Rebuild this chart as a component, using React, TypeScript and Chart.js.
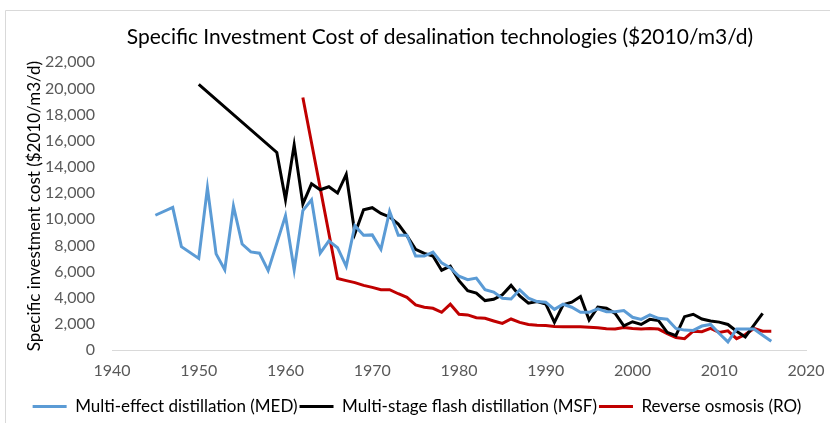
import React, { useEffect, useRef } from "react";
import { Chart, registerables } from "chart.js";

Chart.register(...registerables);

const medYears = [1945, 1947, 1948, 1950, 1951, 1952, 1953, 1954, 1955, 1956, 1957, 1958, 1960, 1961, 1962, 1963, 1964, 1965, 1966, 1967, 1968, 1969, 1970, 1971, 1972, 1973, 1974, 1975, 1976, 1977, 1978, 1979, 1980, 1981, 1982, 1983, 1984, 1985, 1986, 1987, 1988, 1989, 1990, 1991, 1992, 1993, 1994, 1995, 1996, 1997, 1998, 1999, 2000, 2001, 2002, 2003, 2004, 2005, 2006, 2007, 2008, 2009, 2010, 2011, 2012, 2013, 2014, 2015, 2016];
const medValues = [10300, 10900, 7900, 7000, 12400, 7350, 6130, 11000, 8100, 7500, 7400, 6070, 10270, 6130, 10660, 11480, 7400, 8340, 7820, 6400, 9500, 8780, 8800, 7700, 10600, 8780, 8780, 7180, 7180, 7490, 6660, 6280, 5640, 5380, 5500, 4610, 4430, 3960, 3900, 4600, 3960, 3700, 3650, 3110, 3500, 3270, 2880, 2880, 3140, 2930, 2930, 3010, 2500, 2340, 2680, 2420, 2350, 1650, 1520, 1500, 1830, 1950, 1260, 620, 1600, 1600, 1600, 1130, 670];

const msfYears = [1950, 1959, 1960, 1961, 1962, 1963, 1964, 1965, 1966, 1967, 1968, 1969, 1970, 1971, 1972, 1973, 1974, 1975, 1976, 1977, 1978, 1979, 1980, 1981, 1982, 1983, 1984, 1985, 1986, 1987, 1988, 1989, 1990, 1991, 1992, 1993, 1994, 1995, 1996, 1997, 1998, 1999, 2000, 2001, 2002, 2003, 2004, 2005, 2006, 2007, 2008, 2009, 2010, 2011, 2012, 2013, 2014, 2015];
const msfValues = [20300, 15100, 11500, 15680, 11150, 12700, 12250, 12480, 12000, 13420, 8900, 10720, 10880, 10440, 10170, 9630, 8730, 7700, 7390, 7180, 6100, 6410, 5300, 4530, 4350, 3780, 3880, 4220, 4940, 4140, 3580, 3700, 3520, 2110, 3450, 3650, 4090, 2290, 3270, 3190, 2800, 1850, 2160, 1950, 2340, 2250, 1350, 1100, 2550, 2730, 2370, 2220, 2130, 1950, 1440, 1000, 1900, 2800];

const roYears = [1962, 1966, 1967, 1968, 1969, 1970, 1971, 1972, 1973, 1974, 1975, 1976, 1977, 1978, 1979, 1980, 1981, 1982, 1983, 1984, 1985, 1986, 1987, 1988, 1989, 1990, 1991, 1992, 1993, 1994, 1995, 1996, 1997, 1998, 1999, 2000, 2001, 2002, 2003, 2004, 2005, 2006, 2007, 2008, 2009, 2010, 2011, 2012, 2013, 2014, 2015, 2016];
const roValues = [19300, 5460, 5300, 5150, 4940, 4790, 4610, 4610, 4300, 4020, 3450, 3270, 3190, 2880, 3500, 2730, 2680, 2470, 2420, 2220, 2030, 2370, 2110, 1950, 1900, 1880, 1800, 1780, 1780, 1780, 1740, 1700, 1620, 1600, 1720, 1650, 1600, 1650, 1600, 1250, 950, 870, 1440, 1400, 1650, 1340, 1470, 870, 1180, 1650, 1440, 1440];

const seriesNames = [
  "Multi-effect distillation (MED)",
  "Multi-stage flash distillation (MSF)",
  "Reverse osmosis (RO)",
];
const titleText = "Specific Investment Cost of desalination technologies ($2010/m3/d)";
const yTitle = "Specific investment cost ($2010/m3/d)";

const toPoints = (xs: number[], ys: number[]) => xs.map((x, i) => ({ x, y: ys[i] }));

const FONT = "Lato, 'Open Sans', sans-serif";

const frame = {
  id: "frame",
  afterLayout(chart: any) {
    if (chart.titleBlock) {
      chart.titleBlock.left += 74;
    }
    if (chart.legend) {
      chart.legend.left += 14;
      chart.legend.right += 14;
      chart.legend.top += 2;
      chart.legend.bottom += 2;
    }
  },
  beforeDraw(chart: any) {
    const ctx = chart.ctx;
    ctx.save();
    ctx.fillStyle = "#ffffff";
    ctx.fillRect(0, 0, chart.width, chart.height);
    ctx.strokeStyle = "#d9d9d9";
    ctx.lineWidth = 1;
    ctx.beginPath();
    ctx.moveTo(5.5, chart.height);
    ctx.lineTo(5.5, 10.5);
    ctx.lineTo(chart.width, 10.5);
    ctx.stroke();
    ctx.restore();
  },
};

export default function App() {
  const ref = useRef<HTMLCanvasElement>(null);
  useEffect(() => {
    document.body.style.margin = "0";
    const canvas = ref.current!;
    const colors = ["#5B9BD5", "#000000", "#C00000"];
    const data = [toPoints(medYears, medValues), toPoints(msfYears, msfValues), toPoints(roYears, roValues)];
    const chart = new Chart(canvas, {
      type: "line",
      data: {
        datasets: data.map((d, i) => ({
          label: seriesNames[i],
          data: d,
          borderColor: colors[i],
          backgroundColor: colors[i],
          borderWidth: 3,
          pointRadius: 0,
          tension: 0,
        })),
      },
      options: {
        animation: false,
        responsive: false,
        layout: { padding: { left: 0, right: 24, top: 0, bottom: 0 } },
        plugins: {
          title: {
            display: true,
            text: titleText,
            color: "#000000",
            font: { family: FONT, size: 21, weight: "normal" },
            padding: { top: 25, bottom: 12 },
          },
          legend: {
            position: "bottom",
            labels: {
              usePointStyle: true,
              pointStyle: "line",
              pointStyleWidth: 34,
              color: "#000000",
              font: { family: FONT, size: 17 },
              padding: 2,
            },
          },
          tooltip: { enabled: false },
        },
        scales: {
          x: {
            type: "linear",
            min: 1940,
            max: 2020,
            ticks: {
              stepSize: 10,
              color: "#595959",
              font: { family: FONT, size: 16 },
              padding: 3,
              callback: (v: any) => String(v),
            },
            grid: { display: false },
            border: { display: true, color: "#d9d9d9", width: 1 },
            afterFit: (scale: any) => {
              scale.height = 44;
            },
          },
          y: {
            min: 0,
            max: 22000,
            ticks: {
              stepSize: 2000,
              color: "#595959",
              font: { family: FONT, size: 16 },
              padding: 9,
            },
            grid: { display: false },
            border: { display: false },
            title: {
              display: true,
              text: yTitle,
              color: "#000000",
              font: { family: FONT, size: 17 },
              padding: { top: 24, bottom: 4 },
            },
            afterFit: (scale: any) => {
              scale.width = 112;
            },
          },
        },
      },
      plugins: [frame],
    });
    return () => chart.destroy();
  }, []);
  return <canvas ref={ref} width={830} height={423} />;
}
